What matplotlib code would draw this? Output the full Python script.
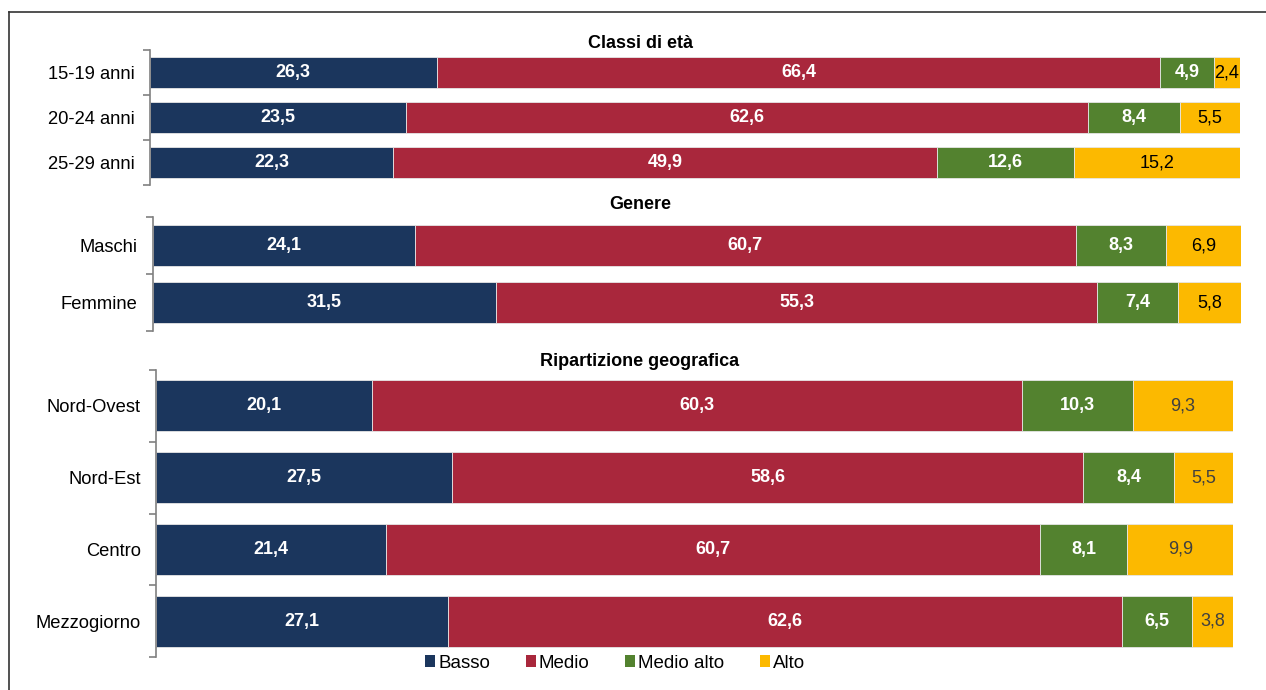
import numpy as np
import matplotlib.pyplot as plt
from matplotlib.lines import Line2D
from matplotlib.patches import Patch

plt.rcParams['font.family'] = ['Liberation Sans', 'DejaVu Sans']

series = ["Basso", "Medio", "Medio alto", "Alto"]
colors = ["#1b365d", "#a9273c", "#53822f", "#fcb900"]

eta_labels = ["15-19 anni", "20-24 anni", "25-29 anni"]
eta_basso = [26.3, 23.5, 22.3]
eta_medio = [66.4, 62.6, 49.9]
eta_medio_alto = [4.9, 8.4, 12.6]
eta_alto = [2.4, 5.5, 15.2]

gen_labels = ["Maschi", "Femmine"]
gen_basso = [24.1, 31.5]
gen_medio = [60.7, 55.3]
gen_medio_alto = [8.3, 7.4]
gen_alto = [6.9, 5.8]

rip_labels = ["Nord-Ovest", "Nord-Est", "Centro", "Mezzogiorno"]
rip_basso = [20.1, 27.5, 21.4, 27.1]
rip_medio = [60.3, 58.6, 60.7, 62.6]
rip_medio_alto = [10.3, 8.4, 8.1, 6.5]
rip_alto = [9.3, 5.5, 9.9, 3.8]

W, H = 1266, 690
fig = plt.figure(figsize=(W / 100, H / 100), dpi=100)

# outer frame (top and left only)
fig.add_artist(Line2D([9 / W, 9 / W], [0, 1 - 12 / H], color="#333333", lw=1.2))
fig.add_artist(Line2D([9 / W, 1], [1 - 12 / H, 1 - 12 / H], color="#333333", lw=1.2))


def panel(x0, x1, y0, y1, title, ty, labels, data, alto_color):
    ax = fig.add_axes([x0 / W, 1 - y1 / H, (x1 - x0) / W, (y1 - y0) / H])
    n = len(labels)
    y = np.arange(n)
    left = np.zeros(n)
    for k, vals in enumerate(data):
        vals = np.array(vals)
        ax.barh(y, vals, left=left, height=0.71, color=colors[k],
                edgecolor="#e6e6e6", linewidth=0.6)
        for i in range(n):
            cx = left[i] + vals[i] / 2
            txt = f"{vals[i]:.1f}".replace(".", ",")
            if k < 3:
                ax.text(cx, y[i], txt, ha="center", va="center", color="white",
                        fontsize=13, fontweight="bold")
            else:
                ax.text(cx, y[i], txt, ha="center", va="center", color=alto_color,
                        fontsize=13)
        left += vals
    ax.set_xlim(0, 100)
    ax.set_ylim(n - 0.5, -0.5)
    ax.set_yticks(y)
    ax.set_yticklabels(labels, fontsize=13.2)
    ax.set_yticks(np.arange(n + 1) - 0.5, minor=True)
    ax.tick_params(axis="y", which="major", length=0, pad=11)
    ax.tick_params(axis="y", which="minor", length=5, color="#808080", width=1.2)
    ax.set_xticks([])
    for s in ["top", "right", "bottom"]:
        ax.spines[s].set_visible(False)
    ax.spines["left"].set_color("#808080")
    ax.spines["left"].set_linewidth(1.2)
    fig.text(640 / W, 1 - ty / H, title, ha="center", va="center",
             fontsize=13, fontweight="bold")
    return ax


panel(150, 1240, 50, 185, "Classi di età", 44, eta_labels,
      [eta_basso, eta_medio, eta_medio_alto, eta_alto], "black")
panel(153, 1241, 217, 331, "Genere", 204, gen_labels,
      [gen_basso, gen_medio, gen_medio_alto, gen_alto], "black")
panel(156, 1233, 370, 657, "Ripartizione geografica", 361, rip_labels,
      [rip_basso, rip_medio, rip_medio_alto, rip_alto], "#404040")

handles = [Patch(facecolor=c, edgecolor="none") for c in colors]
fig.legend(handles, series, loc="center", bbox_to_anchor=(615 / W, 1 - 663 / H),
           ncol=4, frameon=False, fontsize=13.5, handlelength=0.55, handleheight=0.55,
           handletextpad=0.15, columnspacing=1.9)

fig.savefig("out.png", dpi=100)
